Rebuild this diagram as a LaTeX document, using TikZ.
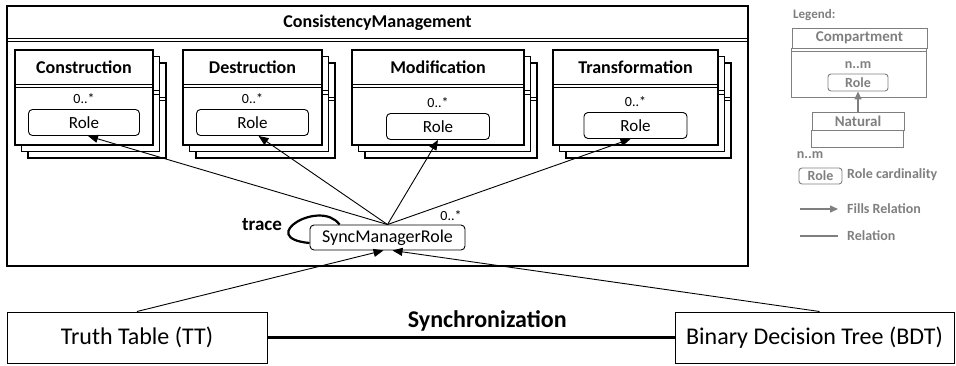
\documentclass[tikz,border=0pt]{standalone}
\usepackage{fontspec}
\setmainfont{Carlito}
\usetikzlibrary{arrows.meta,positioning}

\definecolor{legendgray}{RGB}{127,127,127}

\tikzset{
  box/.style={draw,line width=1.2pt,fill=white},
  sep/.style={line width=0.8pt},
  title/.style={font=\fontsize{18}{20}\selectfont\bfseries},
  card/.style={font=\fontsize{14}{16}\selectfont,inner sep=0pt},
  rolebox/.style={draw,rounded corners=4pt,line width=0.9pt,minimum height=26pt,
    inner sep=0pt,font=\fontsize{17}{19}\selectfont},
  fills/.style={line width=0.9pt,-{Triangle[length=10pt,width=8pt]}},
  plainbox/.style={draw,line width=1pt,inner sep=0pt,minimum height=51pt,
    font=\fontsize{24}{26}\selectfont},
  % legend
  legbox/.style={draw=legendgray,line width=0.9pt},
  legtext/.style={text=legendgray,inner sep=0pt,font=\fontsize{14}{16}\selectfont\bfseries},
  legrole/.style={legbox,rounded corners=3pt,inner sep=0pt,minimum height=17pt,
    text=legendgray,font=\fontsize{14}{16}\selectfont\bfseries},
  legfills/.style={draw=legendgray,line width=1.4pt,
    -{Triangle[length=8pt,width=7pt]},legendgray},
}

% stacked compartment: name, left, right, title, role width, role y
\newcommand{\compstack}[6]{%
  \foreach \d in {13,6.5}{%
    \draw[box] (#2+\d,50+\d) rectangle (#3+\d,145+\d);
    \draw[sep] (#2+\d,84+\d) -- (#3+\d,84+\d) (#2+\d,87.5+\d) -- (#3+\d,87.5+\d);
  }
  \draw[box] (#2,50) rectangle (#3,145);
  \draw[sep] (#2,84) -- (#3,84) (#2,87.5) -- (#3,87.5);
  \node[title] (#1) at ({(#2+#3)/2},67) {#4};
  \node[card] (#1card) at ({(#2+#3)/2},#6-24) {0..*};
  \node[rolebox,minimum width=#5pt] (#1role) at ({(#2+#3)/2},#6) {Role};
}

\begin{document}
\begin{tikzpicture}[x=1pt,y=-1pt]
  \useasboundingbox (0,0) rectangle (956,365);

  % outer compartment
  \draw[box] (7,6) rectangle (748,266);
  \draw[sep] (7,38) -- (748,38) (7,41.5) -- (748,41.5);
  \node[title] (cm) at (377.5,23) {ConsistencyManagement};

  \compstack{constr}{15}{153}{Construction}{111}{122.5}
  \compstack{destr}{183}{322}{Destruction}{112}{122.5}
  \compstack{modif}{352}{524}{Modification}{103}{126.5}
  \compstack{trans}{553}{718}{Transformation}{103}{125.5}

  % player role
  \node[rolebox,minimum width=155pt,minimum height=25pt,font=\fontsize{18}{20}\selectfont]
    (sync) at (387.5,237.5) {SyncManagerRole};
  \node[card] (synccard) at (451,216) {0..*};
  \draw[fills] (sync.north) -- ([xshift=4pt]constrrole.south);
  \draw[fills] (sync.north) -- ([xshift=6pt]destrrole.south);
  \draw[fills] (sync.north) -- (modifrole.south);
  \draw[fills] (sync.north) -- ([xshift=-5pt]transrole.south);

  % self relation
  \draw[line width=2.2pt] ([xshift=30pt]sync.north west)
    .. controls (320,198) and (255,238) .. ([yshift=-5.5pt]sync.west);
  \node[font=\fontsize{19}{21}\selectfont\bfseries] (trace) at (262,225) {trace};

  % naturals
  \node[plainbox,minimum width=260pt] (tt) at (137,337.5) {Truth Table (TT)};
  \node[plainbox,minimum width=279pt] (bdt) at (814.5,337.5) {Binary Decision Tree (BDT)};
  \draw[line width=3pt] (tt) -- node[pos=0.54,above=1pt,font=\fontsize{24}{26}\selectfont\bfseries]
    (sync label) {Synchronization} (bdt);
  \draw[fills] (tt.north) -- ([xshift=-4pt]sync.south);
  \draw[fills] ([xshift=5pt]bdt.north) -- ([xshift=5pt]sync.south);

  % legend
  \node[legtext,anchor=west,font=\fontsize{13}{15}\selectfont\bfseries] (legend) at (793,15) {Legend:};
  \node[legbox,minimum width=135pt,minimum height=20pt,inner sep=0pt,
    text=legendgray,font=\fontsize{15}{17}\selectfont\bfseries] (lcomp) at (859.5,38) {Compartment};
  \draw[legbox] (lcomp.south west) rectangle ++(135,49);
  \draw[draw=legendgray,line width=0.9pt] ([yshift=-3pt]lcomp.south west) -- ([yshift=-3pt]lcomp.south east);
  \node[legtext] (lnm) at (858,65) {n..m};
  \node[legrole,minimum width=60pt] (lrole) at (858,82.5) {Role};
  \node[legbox,minimum width=92pt,minimum height=18pt,inner sep=0pt,
    text=legendgray,font=\fontsize{15}{17}\selectfont\bfseries] (lnat) at (858,121) {Natural};
  \draw[legbox] (lnat.south west) rectangle ++(92,17);
  \draw[legfills] (lnat.north) -- (lrole.south);

  \node[legtext] (lnm2) at (810,155) {n..m};
  \node[legrole,minimum width=43pt,minimum height=16pt] (lrole2) at (820.5,176) {Role};
  \node[legtext,anchor=west] (lcardtxt) at (847,175) {Role cardinality};

  \coordinate (fa) at (800,209);
  \coordinate (fb) at (838,209);
  \draw[legfills] (fa) -- (fb);
  \node[legtext,anchor=west] (lfills) at (847,209) {Fills Relation};

  \coordinate (ra) at (800,236);
  \coordinate (rb) at (838,236);
  \draw[draw=legendgray,line width=1.4pt] (ra) -- (rb);
  \node[legtext,anchor=west] (lrel) at (847,236) {Relation};
\end{tikzpicture}
\end{document}
